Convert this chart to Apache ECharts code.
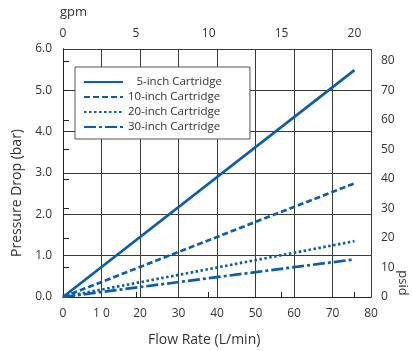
<!DOCTYPE html>
<html>
<head>
<meta charset="utf-8">
<script src="https://cdn.jsdelivr.net/npm/echarts@6/dist/echarts.min.js"></script>
<style>
  html, body { margin: 0; padding: 0; background: #fff; }
  #chart { width: 412px; height: 351px; }
</style>
</head>
<body>
<div id="chart"></div>
<script>
// data
var flowLpm = [0, 75.7]
var drop5in = [0, 5.49]
var drop10in = [0, 2.75]
var drop20in = [0, 1.35]
var drop30in = [0, 0.91]
var seriesNames = ['5-inch Cartridge', '10-inch Cartridge', '20-inch Cartridge', '30-inch Cartridge']
var flowTickLabels = ['0', '1 0', '20', '30', '40', '50', '60', '70', '80']

var blue = '#0b5db0'
var grey = '#333'
var font = 'Open Sans'

function pairs (ys) {
  return flowLpm.map(function (x, i) { return [x, ys[i]] })
}

var myChart = echarts.init(document.getElementById('chart'))
var option = {
  animation: false,
  textStyle: { fontFamily: font, color: grey },
  grid: { left: 63, right: 41, top: 49, bottom: 54 },
  legend: {
    orient: 'vertical',
    left: 75,
    top: 67,
    padding: [9, 28, 6, 8],
    itemWidth: 39,
    itemHeight: 14,
    itemGap: 3,
    backgroundColor: '#fff',
    borderColor: '#555',
    borderWidth: 1,
    borderRadius: 0,
    itemStyle: { opacity: 0 },
    data: seriesNames,
    // short names get a digit-wide pad so the texts line up on the right
    formatter: function (name) {
      return name.charAt(1) === '-' ? '{p| }' + name : name
    },
    textStyle: {
      fontFamily: font,
      fontSize: 11.5,
      color: grey,
      rich: { p: { width: 8.4, fontFamily: font, fontSize: 11.5 } }
    }
  },
  graphic: [
    { type: 'text', left: 60, top: 6, style: { text: 'gpm', font: '13px "Open Sans"', fill: grey } },
    { type: 'text', left: 148, top: 333, style: { text: 'Flow Rate (L/min)', font: '14px "Open Sans"', fill: grey } },
    { type: 'text', x: 17, y: 193, rotation: Math.PI / 2, style: { text: 'Pressure Drop (bar)', font: '14px "Open Sans"', fill: grey, align: 'center', verticalAlign: 'middle' } },
    { type: 'text', x: 403, y: 283, rotation: -Math.PI / 2, style: { text: 'psid', font: '13px "Open Sans"', fill: grey, align: 'center', verticalAlign: 'middle' } }
  ],
  xAxis: [
    {
      type: 'value',
      position: 'bottom',
      min: 0,
      max: 80,
      interval: 10,
      axisLine: { lineStyle: { color: '#222', width: 1 } },
      axisTick: { show: false },
      axisLabel: {
        margin: 11,
        fontSize: 12,
        color: grey,
        fontFamily: font,
        formatter: function (v) { return flowTickLabels[Math.round(v / 10)] }
      },
      splitLine: { show: true, lineStyle: { color: '#3a3a3a', width: 1 } }
    },
    {
      type: 'value',
      position: 'top',
      min: 0,
      max: 80 / 3.785,
      interval: 5,
      axisLine: { show: true, lineStyle: { color: '#222', width: 1 } },
      axisTick: { show: true, length: 5, lineStyle: { color: '#222' } },
      axisLabel: {
        margin: 9,
        fontSize: 12,
        color: grey,
        fontFamily: font,
        showMaxLabel: false,
        formatter: function (v) { return v % 5 === 0 ? String(v) : '' }
      },
      splitLine: { show: false }
    }
  ],
  yAxis: [
    {
      type: 'value',
      position: 'left',
      min: 0,
      max: 6,
      interval: 1,
      axisLine: { show: true, lineStyle: { color: '#222', width: 1 } },
      axisTick: { show: false },
      axisLabel: {
        margin: 11,
        fontSize: 12,
        color: grey,
        fontFamily: font,
        formatter: function (v) { return v.toFixed(1) }
      },
      splitLine: { show: true, lineStyle: { color: '#3a3a3a', width: 1 } }
    },
    {
      type: 'value',
      position: 'right',
      min: 0,
      max: 84,
      interval: 10,
      axisLine: { show: true, lineStyle: { color: '#222', width: 1 } },
      axisTick: { show: true, length: 6, lineStyle: { color: '#222' } },
      axisLabel: {
        margin: 10,
        fontSize: 12,
        color: grey,
        fontFamily: font,
        showMaxLabel: false,
        formatter: function (v) { return v % 10 === 0 ? String(v) : '' }
      },
      splitLine: { show: false }
    }
  ],
  series: [
    {
      name: seriesNames[0],
      type: 'line',
      symbol: 'none',
      data: pairs(drop5in),
      lineStyle: { color: blue, width: 2.7, type: 'solid' },
      itemStyle: { color: blue }
    },
    {
      name: seriesNames[1],
      type: 'line',
      symbol: 'none',
      data: pairs(drop10in),
      lineStyle: { color: blue, width: 2.7, type: [6, 3] },
      itemStyle: { color: blue }
    },
    {
      name: seriesNames[2],
      type: 'line',
      symbol: 'none',
      data: pairs(drop20in),
      lineStyle: { color: blue, width: 2.7, type: [2.5, 2.5] },
      itemStyle: { color: blue }
    },
    {
      name: seriesNames[3],
      type: 'line',
      symbol: 'none',
      data: pairs(drop30in),
      lineStyle: { color: blue, width: 2.7, type: [12, 3, 3, 3] },
      itemStyle: { color: blue }
    }
  ]
}
myChart.setOption(option)
</script>
</body>
</html>
